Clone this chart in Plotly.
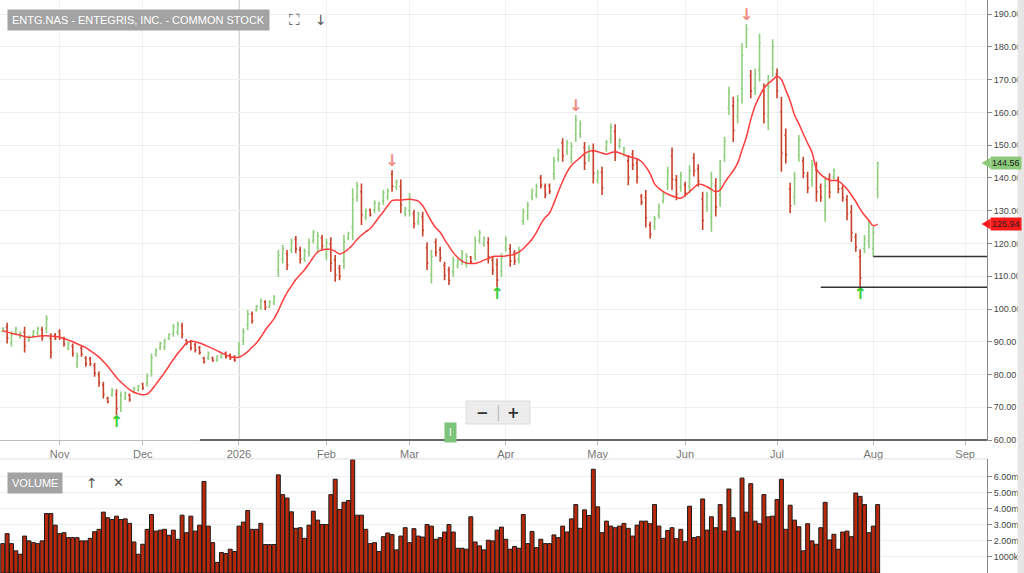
import pandas as pd
import plotly.graph_objects as go

# trading days shown (weekends and US market holidays skipped)
holidays = ["2025-11-27", "2025-12-25", "2026-01-01", "2026-01-19", "2026-02-16",
            "2026-04-03", "2026-05-25", "2026-06-19", "2026-07-03"]
dates = pd.bdate_range("2025-10-15", "2026-08-04")
dates = dates[~dates.isin(pd.to_datetime(holidays))]

opens = [93.2, 94.5, 89.7, 92.6, 91.5, 93.0, 90.5, 91.9, 92.6, 93.7,
         94.0, 91.1, 92.2, 93.1, 90.9, 88.1, 88.7, 83.1, 88.0, 85.0,
         84.8, 82.7, 80.0, 76.8, 72.8, 73.9, 73.9, 70.2, 72.9, 73.7,
         74.7, 75.3, 77.1, 77.3, 81.1, 86.1, 88.1, 88.4, 91.0, 92.5,
         93.0, 94.8, 90.4, 89.9, 89.1, 88.2, 85.0, 85.1, 85.1, 84.4,
         85.3, 86.6, 86.0, 85.5, 86.6, 90.3, 95.1, 98.5, 99.7, 100.6,
         102.1, 100.8, 102.0, 111.9, 115.3, 116.8, 118.1, 121.2, 118.0, 115.4,
         117.4, 121.0, 118.7, 121.7, 116.6, 119.8, 114.9, 112.5, 114.7, 121.7,
         125.0, 134.2, 135.8, 128.0, 130.2, 130.2, 130.5, 132.9, 134.1, 141.1,
         137.1, 137.4, 129.0, 130.0, 129.1, 126.6, 128.2, 118.7, 110.4, 120.4,
         118.1, 113.3, 111.8, 111.4, 113.2, 114.6, 113.8, 115.7, 116.7, 121.0,
         119.8, 120.3, 114.9, 113.6, 111.6, 118.7, 118.4, 117.1, 115.2, 126.9,
         128.5, 134.1, 134.9, 140.1, 137.4, 137.7, 141.2, 145.9, 150.7, 148.2,
         146.1, 153.1, 153.5, 149.3, 146.2, 148.1, 139.3, 141.7, 148.9, 152.0,
         154.2, 149.8, 147.3, 145.2, 147.3, 144.5, 134.4, 134.0, 125.6, 125.2,
         128.8, 133.1, 138.1, 146.7, 139.4, 137.3, 137.9, 137.5, 146.1, 142.8,
         133.5, 131.2, 128.2, 137.6, 134.8, 146.8, 161.4, 162.0, 158.8, 167.3,
         181.5, 171.2, 167.3, 173.1, 166.4, 158.8, 173.7, 171.6, 160.2, 153.0,
         136.6, 134.3, 147.0, 145.2, 140.6, 139.4, 142.5, 137.2, 130.1, 139.9,
         140.2, 139.4, 136.8, 133.3, 129.5, 122.0, 115.9, 118.4, 120.7, 118.3,
         136.6]

highs = [94.4, 95.8, 93.1, 94.6, 93.1, 94.6, 92.0, 93.6, 94.6, 94.6,
         98.1, 92.6, 92.6, 93.8, 91.5, 90.0, 89.5, 86.7, 88.7, 85.6,
         85.4, 83.6, 80.9, 77.8, 73.2, 75.8, 75.5, 74.8, 74.8, 74.2,
         76.3, 76.8, 77.5, 80.3, 86.4, 88.0, 90.0, 91.0, 92.6, 95.4,
         96.1, 95.8, 90.8, 90.5, 89.7, 88.7, 85.4, 87.0, 85.4, 85.9,
         86.4, 87.0, 86.4, 85.9, 90.0, 94.1, 99.7, 99.2, 101.2, 103.2,
         102.7, 102.7, 104.3, 118.0, 119.5, 118.0, 121.5, 122.3, 119.0, 118.5,
         121.5, 124.1, 123.6, 122.6, 121.5, 121.9, 116.5, 113.4, 122.6, 123.6,
         136.8, 138.8, 138.3, 130.7, 130.7, 133.2, 132.7, 136.3, 136.8, 142.4,
         139.5, 139.5, 131.2, 135.5, 130.2, 129.7, 129.7, 120.4, 118.0, 121.5,
         119.0, 114.4, 112.9, 116.0, 115.4, 118.0, 117.0, 116.2, 122.1, 124.1,
         122.1, 121.9, 116.0, 115.4, 117.0, 122.1, 119.8, 118.0, 119.0, 130.7,
         132.7, 136.8, 138.3, 140.9, 138.3, 138.3, 146.5, 149.0, 152.1, 151.6,
         151.0, 159.2, 157.5, 151.0, 150.0, 150.5, 142.4, 143.4, 151.6, 156.6,
         156.4, 152.1, 149.5, 147.0, 148.5, 146.0, 135.1, 136.3, 126.6, 128.4,
         132.2, 135.8, 143.4, 149.3, 140.9, 141.9, 138.8, 143.9, 147.5, 144.2,
         135.8, 135.8, 141.9, 139.9, 145.5, 152.6, 167.8, 164.8, 165.3, 181.1,
         187.0, 172.9, 173.4, 184.1, 168.8, 171.4, 182.3, 173.4, 164.8, 155.1,
         138.5, 141.9, 153.1, 146.5, 141.9, 145.5, 144.9, 138.3, 140.4, 141.4,
         142.9, 140.4, 137.8, 134.8, 131.7, 123.1, 118.2, 122.6, 127.1, 125.1,
         144.9]

lows = [92.8, 89.5, 88.5, 92.0, 91.0, 86.7, 90.0, 91.3, 92.0, 90.3,
        92.6, 84.9, 90.5, 90.5, 88.5, 87.5, 85.4, 81.9, 85.4, 82.4,
        82.6, 79.3, 76.3, 72.7, 71.2, 73.2, 67.6, 68.6, 72.2, 71.7,
        74.2, 74.8, 75.3, 76.3, 79.3, 85.4, 87.5, 87.5, 90.5, 91.5,
        92.0, 91.0, 89.0, 87.3, 86.7, 86.0, 83.4, 84.4, 83.9, 83.9,
        84.9, 84.9, 84.4, 83.9, 85.4, 89.0, 93.6, 95.6, 99.2, 99.7,
        99.7, 100.2, 101.2, 109.8, 113.9, 111.9, 117.0, 117.0, 113.9, 114.4,
        116.0, 120.0, 117.0, 118.0, 114.9, 111.4, 108.3, 108.8, 112.1, 121.0,
        121.0, 132.7, 125.6, 127.1, 128.2, 129.2, 129.7, 131.7, 133.2, 135.8,
        136.3, 129.2, 128.2, 128.2, 124.6, 125.6, 122.1, 111.9, 107.8, 116.0,
        114.4, 108.8, 107.3, 109.8, 112.4, 113.4, 112.7, 113.7, 114.9, 120.0,
        119.0, 113.9, 110.4, 106.6, 109.8, 117.5, 112.9, 113.4, 113.9, 125.6,
        127.1, 133.2, 133.8, 136.8, 133.8, 135.1, 139.4, 144.9, 144.9, 147.0,
        144.4, 151.0, 152.1, 142.4, 144.9, 138.3, 138.3, 134.8, 148.0, 150.5,
        145.2, 149.0, 146.5, 137.8, 142.4, 138.3, 131.7, 124.9, 121.5, 124.1,
        127.6, 132.2, 136.3, 136.3, 133.2, 135.8, 134.3, 135.3, 140.4, 137.3,
        124.1, 129.7, 123.6, 128.2, 131.2, 144.9, 159.2, 151.0, 156.6, 162.7,
        179.6, 164.3, 165.3, 169.4, 156.6, 154.6, 170.9, 164.3, 141.9, 144.4,
        129.2, 131.7, 144.9, 139.9, 135.3, 137.3, 132.7, 132.7, 126.6, 133.8,
        139.3, 135.3, 132.7, 127.1, 120.5, 117.5, 106.6, 117.0, 118.5, 116.0,
        133.8]

closes = [94.1, 91.1, 92.2, 94.1, 92.7, 88.7, 91.6, 93.1, 94.1, 91.4,
          97.0, 86.8, 91.0, 91.3, 89.3, 89.5, 86.4, 85.7, 86.2, 83.2,
          83.3, 80.4, 77.5, 74.0, 71.7, 75.3, 69.6, 73.6, 74.3, 72.3,
          75.9, 76.4, 75.9, 79.5, 85.0, 87.5, 89.5, 90.3, 92.2, 94.6,
          95.3, 92.2, 89.5, 88.1, 87.5, 86.7, 83.9, 86.5, 84.3, 85.5,
          86.1, 85.4, 84.9, 84.4, 89.1, 93.1, 98.5, 96.5, 100.8, 102.5,
          100.5, 102.2, 103.7, 116.4, 118.4, 113.4, 120.6, 118.3, 115.2, 117.7,
          120.4, 123.3, 122.3, 119.2, 120.2, 114.0, 110.4, 110.0, 120.5, 123.1,
          133.6, 137.6, 128.8, 130.0, 128.8, 132.4, 132.1, 135.4, 136.1, 137.5,
          138.9, 131.8, 130.6, 134.0, 126.0, 128.9, 124.0, 114.0, 116.0, 117.4,
          115.6, 110.2, 108.7, 114.8, 114.8, 117.1, 116.1, 114.3, 120.7, 123.3,
          121.5, 115.9, 111.8, 108.8, 115.6, 121.2, 114.6, 114.6, 118.0, 129.7,
          131.6, 136.1, 137.4, 137.8, 134.9, 135.9, 145.1, 148.2, 146.7, 150.7,
          149.7, 157.6, 156.4, 144.6, 149.0, 141.4, 141.6, 137.0, 150.9, 155.4,
          148.0, 151.5, 148.9, 140.1, 143.9, 140.2, 132.6, 127.8, 122.8, 127.5,
          131.3, 135.1, 142.0, 139.6, 135.1, 140.7, 135.4, 142.2, 142.2, 139.0,
          127.0, 134.6, 138.2, 131.1, 142.6, 151.1, 166.1, 154.5, 163.6, 177.4,
          185.5, 166.5, 171.8, 181.2, 159.6, 168.0, 180.0, 166.6, 147.6, 147.1,
          131.5, 139.9, 151.5, 141.6, 137.0, 143.9, 135.8, 134.1, 137.6, 135.7,
          142.2, 136.6, 134.0, 129.0, 123.3, 118.9, 109.5, 121.5, 125.4, 123.3,
          144.56]

# moving average as drawn
ma = [93.4, 93.0, 92.6, 92.3, 92.0, 91.6, 91.3, 91.5, 91.7, 91.8,
      91.8, 91.7, 91.6, 91.4, 91.0, 90.5, 90.0, 89.4, 88.8, 88.2,
      87.3, 86.4, 85.3, 84.0, 82.5, 80.8, 79.1, 77.7, 76.5, 75.4,
      74.6, 74.1, 73.8, 74.0, 75.3, 77.0, 78.8, 80.6, 82.6, 84.6,
      86.4, 88.0, 89.6, 90.2, 90.0, 89.6, 89.1, 88.5, 87.9, 87.3,
      86.6, 86.0, 85.5, 85.2, 85.3, 86.0, 87.0, 88.3, 89.6, 91.4,
      93.5, 95.3, 97.0, 99.5, 102.5, 105.0, 107.0, 109.0, 110.5, 112.0,
      113.8, 115.8, 117.4, 118.0, 118.2, 118.2, 117.6, 116.8, 117.3, 118.3,
      119.6, 121.2, 122.5, 123.6, 124.5, 126.2, 128.0, 129.7, 131.5, 133.1,
      133.3, 133.2, 133.4, 133.5, 133.3, 132.9, 131.5, 129.2, 126.7, 124.8,
      123.4, 121.2, 119.2, 117.2, 115.7, 114.6, 114.0, 113.9, 113.9, 114.3,
      114.9, 115.4, 116.0, 116.1, 116.1, 116.2, 116.4, 116.7, 117.4, 118.4,
      119.8, 121.3, 123.4, 125.9, 127.9, 129.3, 132.3, 135.8, 139.0, 141.8,
      143.8, 145.1, 146.2, 147.4, 148.1, 148.4, 148.0, 147.6, 147.2, 147.7,
      148.0, 147.6, 147.1, 146.6, 146.2, 145.8, 145.0, 143.4, 141.3, 138.2,
      136.8, 135.8, 135.1, 134.5, 134.1, 133.8, 134.6, 135.8, 137.0, 138.1,
      137.9, 137.3, 136.5, 135.8, 136.3, 138.5, 140.4, 142.2, 144.5, 148.5,
      152.5, 157.8, 162.0, 164.9, 167.4, 168.8, 169.9, 171.0, 170.0, 166.8,
      163.5, 159.2, 156.5, 153.5, 150.6, 147.8, 142.8, 141.0, 140.0, 139.3,
      139.2, 139.1, 138.0, 136.6, 134.8, 132.8, 130.5, 128.6, 127.0, 125.4,
      125.94]

# volume in millions
volume = [1.83, 2.45, 1.83, 1.38, 1.17, 2.30, 2.00, 1.89, 1.83, 2.00,
          3.70, 3.70, 2.98, 2.45, 2.51, 2.20, 2.20, 2.20, 2.00, 2.00,
          2.16, 2.57, 2.72, 3.79, 3.44, 3.33, 3.54, 3.33, 3.37, 3.09,
          1.93, 1.17, 1.79, 2.72, 3.64, 2.61, 2.67, 2.72, 2.35, 2.67,
          2.10, 3.60, 2.51, 3.54, 2.61, 2.98, 5.70, 2.92, 1.89, 0.66,
          1.28, 1.21, 1.48, 1.34, 2.92, 3.17, 3.89, 2.72, 2.72, 3.09,
          1.77, 1.77, 1.77, 6.11, 4.88, 4.67, 3.81, 2.78, 2.82, 2.16,
          2.98, 3.85, 3.29, 3.02, 3.02, 4.88, 5.84, 3.95, 4.40, 4.51,
          7.05, 3.60, 3.60, 2.72, 1.83, 1.89, 1.34, 2.26, 2.49, 2.39,
          1.44, 2.30, 2.82, 1.89, 2.76, 2.30, 2.24, 3.02, 2.92, 2.10,
          2.20, 2.55, 3.02, 2.55, 1.54, 1.54, 1.48, 3.50, 1.93, 1.69,
          1.44, 2.04, 2.00, 2.67, 2.86, 2.10, 1.48, 1.65, 1.54, 3.64,
          1.83, 2.59, 1.58, 2.10, 1.83, 1.83, 2.37, 2.20, 2.92, 2.55,
          3.37, 4.26, 2.78, 3.93, 3.58, 6.46, 4.12, 2.51, 3.23, 2.92,
          2.82, 2.92, 3.09, 2.78, 2.30, 2.98, 3.23, 3.23, 3.07, 4.26,
          2.92, 2.16, 2.65, 2.82, 2.14, 2.72, 1.95, 4.16, 2.20, 2.26,
          4.61, 2.67, 3.50, 2.82, 4.26, 2.61, 5.23, 3.44, 2.61, 5.91,
          3.79, 5.56, 3.23, 3.07, 4.88, 3.50, 3.54, 4.57, 5.84, 2.72,
          4.22, 3.29, 2.88, 1.38, 3.07, 2.00, 1.79, 2.82, 4.40, 2.06,
          2.41, 1.48, 2.55, 2.61, 2.26, 4.98, 4.77, 4.26, 2.51, 2.92,
          4.26]

peak_idx = [89, 131, 170]      # down arrows above the swing highs
trough_idx = [26, 113, 196]    # up arrows below the swing lows
support_from = [199, 187]      # bar where each support line starts
support_at = [199, 196]        # bar whose low sets the level

month_ticks = ["2025-11-03", "2025-12-01", "2026-01-02", "2026-02-02", "2026-03-02", "2026-04-01",
               "2026-05-01", "2026-06-01", "2026-07-01", "2026-08-03", "2026-09-01"]
month_labels = ["Nov", "Dec", "2026", "Feb", "Mar", "Apr", "May", "Jun", "Jul", "Aug", "Sep"]
price_ticks = [60, 70, 80, 90, 100, 110, 120, 130, 140, 150, 160, 170, 180, 190]
vol_ticks = [1, 2, 3, 4, 5, 6]
vol_labels = ["1000k", "2.00m", "3.00m", "4.00m", "5.00m", "6.00m"]

x_start, x_end = "2025-10-14 09:00", "2026-09-08"
breaks = [dict(bounds=["sat", "mon"]), dict(values=holidays)]
font = "Liberation Sans, Arial, sans-serif"
price_dom = [0.232, 1.0]
vol_dom = [0.0, 0.199]

fig = go.Figure()

fig.add_trace(go.Ohlc(x=dates, open=opens, high=highs, low=lows, close=closes,
                      increasing=dict(line=dict(color="#8fcf7d", width=1.6)),
                      decreasing=dict(line=dict(color="#c9422c", width=1.6)),
                      tickwidth=0.3, showlegend=False))

fig.add_trace(go.Scatter(x=dates, y=ma, mode="lines", line=dict(color="#ff3d3d", width=1.5, shape="spline"),
                         showlegend=False, hoverinfo="skip"))

## swing arrows
fig.add_trace(go.Scatter(x=[dates[i] for i in peak_idx], y=[highs[i] for i in peak_idx],
                         mode="text", text=["<b>↓</b>"] * len(peak_idx), textposition="top center",
                         textfont=dict(color="#f08a80", size=16, family="DejaVu Sans"),
                         showlegend=False, hoverinfo="skip"))
fig.add_trace(go.Scatter(x=[dates[i] for i in trough_idx], y=[lows[i] for i in trough_idx],
                         mode="text", text=["<b>↑</b>"] * len(trough_idx), textposition="bottom center",
                         textfont=dict(color="#33cc33", size=16, family="DejaVu Sans"),
                         showlegend=False, hoverinfo="skip"))

fig.add_trace(go.Bar(x=dates, y=volume, xaxis="x2", yaxis="y2",
                     marker=dict(color="#b8290c", line=dict(color="#1a1a1a", width=1)),
                     showlegend=False))

shapes = []
## support lines
for s, a in zip(support_from, support_at):
    shapes.append(dict(type="line", xref="x", yref="y", x0=dates[s], x1=x_end,
                       y0=lows[a], y1=lows[a], line=dict(color="#333333", width=1.5)))
## year separator
shapes.append(dict(type="line", xref="x", yref="y domain", x0=month_ticks[2], x1=month_ticks[2],
                   y0=0, y1=1, line=dict(color="#d4d4d4", width=2), layer="below"))
## navigator bar along the bottom of the price pane
shapes.append(dict(type="line", xref="paper", yref="paper", x0=0.2026, x1=1.0, y0=price_dom[0], y1=price_dom[0],
                   line=dict(color="#666666", width=2)))
## volume pane top border
shapes.append(dict(type="line", xref="paper", yref="paper", x0=0, x1=1.0, y0=vol_dom[1], y1=vol_dom[1],
                   line=dict(color="#dddddd", width=1)))
## right scroll strip
shapes.append(dict(type="rect", xref="paper", yref="paper", x0=1.031, x1=1.04, y0=0, y1=1,
                   fillcolor="#e6e6e6", line=dict(width=0)))
## zoom control box
shapes.append(dict(type="rect", xref="paper", yref="paper", x0=466 / 987, x1=530 / 987,
                   y0=1 - 424 / 573, y1=1 - 401 / 573, fillcolor="#ececec", line=dict(color="#dddddd", width=1)))

## price tags on the axis
tags = [(closes[-1], "#8cc97a"), (ma[-1], "#ff1a1a")]
annotations = []
for val, col in tags:
    shapes.append(dict(type="path", xref="paper", yref="y",
                       path=f"M 0.9945,{val} L 1.0035,{val + 1.6} L 1.0035,{val - 1.6} Z",
                       fillcolor=col, line=dict(width=0)))
    annotations.append(dict(xref="paper", yref="y", x=1.003, y=val, xanchor="left", yanchor="middle",
                            text=f"{val:.2f}", showarrow=False, bgcolor=col, borderpad=1,
                            font=dict(family=font, size=9, color="#222222")))


def label(px, py, text, size=13, color="#555555", family="DejaVu Sans", **kw):
    # pixel position -> paper coords, centred on the point
    return dict(xref="paper", yref="paper", x=px / 987, y=1 - py / 573, xanchor="center", yanchor="middle",
                text=text, showarrow=False, font=dict(family=family, size=size, color=color), **kw)


annotations += [
    dict(xref="paper", yref="paper", x=0.007, y=1 - 20 / 573, xanchor="left", yanchor="middle",
         text="ENTG.NAS - ENTEGRIS, INC. - COMMON STOCK", showarrow=False, bgcolor="#a3a3a3", borderpad=4,
         font=dict(family=font, size=11, color="white")),
    label(294, 20, "⛶", size=15),
    label(321, 20, "↓", size=14),
    dict(xref="paper", yref="paper", x=0.007, y=1 - 483 / 573, xanchor="left", yanchor="middle",
         text="VOLUME", showarrow=False, bgcolor="#a3a3a3", borderpad=4,
         font=dict(family=font, size=11, color="white")),
    label(92, 483, "↑", size=14),
    label(118, 483, "✕", size=13),
    ## zoom buttons
    label(482, 412.5, "<b>−</b>", size=15, color="#333333"),
    label(498, 412.5, "│", size=14, color="#bbbbbb"),
    label(513, 412.5, "<b>+</b>", size=15, color="#333333"),
    label(450, 432, "I", size=10, color="white", family=font, bgcolor="#7cc47a", borderpad=4),
]

fig.update_layout(
    width=1024, height=573,
    margin=dict(l=0, r=37, t=0, b=0),
    plot_bgcolor="white", paper_bgcolor="white",
    bargap=0.1,
    font=dict(family=font, color="#555555"),
    xaxis=dict(domain=[0, 1], anchor="y", type="date", range=[x_start, x_end], rangebreaks=breaks,
               rangeslider=dict(visible=False), tickvals=month_ticks, ticktext=month_labels,
               showgrid=True, gridcolor="#f1f1f1", ticks="outside", ticklen=4, tickcolor="#bbbbbb",
               tickfont=dict(size=11, color="#777777"), showline=True, linecolor="#bbbbbb",
               automargin=False),
    yaxis=dict(domain=price_dom, anchor="x", side="right", range=[60, 194.3], tickvals=price_ticks,
               tickformat=".2f", showgrid=True, gridcolor="#efefef", ticks="outside", ticklen=4,
               tickcolor="#888888", showline=True, linecolor="#888888", zeroline=False,
               tickfont=dict(size=9, color="#444444"), automargin=False),
    xaxis2=dict(domain=[0, 1], anchor="y2", type="date", matches="x", range=[x_start, x_end],
                rangebreaks=breaks, showticklabels=False, showgrid=False, automargin=False),
    yaxis2=dict(domain=vol_dom, anchor="x2", side="right", range=[0, 7.1], tickvals=vol_ticks,
                ticktext=vol_labels, showgrid=True, gridcolor="#efefef", ticks="outside", ticklen=4,
                tickcolor="#888888", showline=True, linecolor="#888888", zeroline=False,
                tickfont=dict(size=9, color="#444444"), automargin=False),
    shapes=shapes,
    annotations=annotations,
)

# the page's default body margin would shift the figure by 8px
fig.write_html("out.html", config={"displayModeBar": False},
               post_script="document.body.style.margin='0';document.body.style.overflow='hidden';")
